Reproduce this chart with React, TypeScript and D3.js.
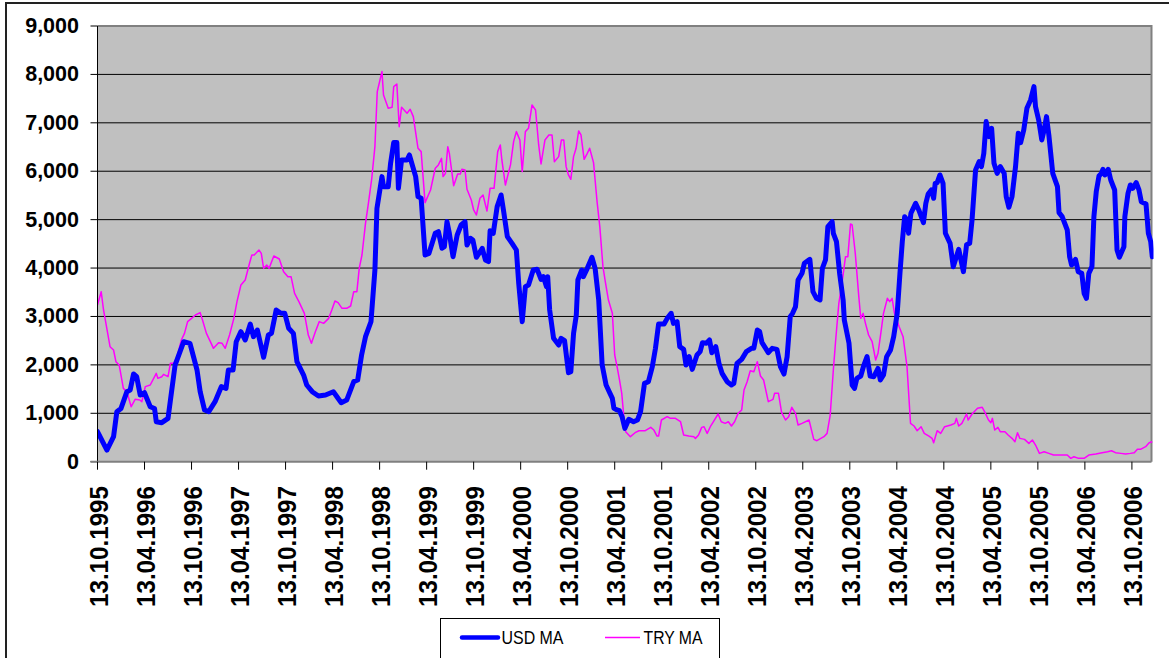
import React from "react";
import * as d3 from "d3";

// Month offsets from 13.10.1995 and values
const usdSeries: [number, number][] = [
  [0, 620], [1.2, 240], [2.05, 517], [2.47, 1033], [3.0, 1100], [3.75, 1446], [4.17, 1480], [4.6, 1811], [5.0, 1756],
  [5.45, 1377], [6.0, 1425], [6.73, 1136], [7.28, 1100], [7.5, 826], [8.2, 806], [9.0, 895], [9.9, 1997], [11.0, 2479],
  [11.8, 2445], [12.7, 1894], [13.1, 1446], [13.66, 1067], [14.2, 1033], [15.0, 1240], [15.8, 1550], [16.4, 1515],
  [16.7, 1894], [17.3, 1894], [17.7, 2479], [18.3, 2686], [18.85, 2514], [19.5, 2844], [19.9, 2583], [20.4, 2720],
  [21.2, 2156], [21.8, 2617], [22.2, 2651], [22.8, 3134], [23.4, 3065], [23.9, 3065], [24.4, 2755], [25.0, 2651],
  [25.45, 2066], [26.3, 1790], [26.7, 1584], [27.4, 1446], [28.2, 1357], [29.1, 1377], [30.1, 1446], [31.1, 1219],
  [31.8, 1274], [32.7, 1653], [33.2, 1687], [33.7, 2204], [34.2, 2583], [34.9, 2893], [35.4, 3960], [35.66, 5234],
  [36.3, 5889], [36.5, 5682], [37.1, 5682], [37.4, 6164], [37.8, 6591], [38.2, 6591], [38.4, 5647], [38.8, 6233],
  [39.5, 6233], [39.8, 6336], [40.6, 5889], [40.9, 5475], [41.3, 5441], [41.8, 4270], [42.3, 4304], [43.1, 4718],
  [43.5, 4752], [43.96, 4408], [44.26, 4442], [44.6, 4959], [44.9, 4718], [45.37, 4235], [45.9, 4683], [46.4, 4890],
  [46.9, 4959], [47.15, 4476], [47.6, 4614], [47.9, 4580], [48.35, 4222], [49.1, 4408], [49.5, 4167], [49.9, 4132],
  [50.1, 4773], [50.5, 4718], [51.0, 5269], [51.5, 5510], [51.8, 5200], [52.3, 4649], [52.9, 4511], [53.45, 4373],
  [53.75, 3684], [54.2, 2893], [54.6, 3616], [55.0, 3650], [55.6, 3960], [56.1, 3974], [56.6, 3767], [56.9, 3822],
  [57.3, 3616], [57.45, 3822], [57.7, 3134], [58.2, 2548], [58.85, 2410], [59.15, 2548], [59.6, 2500], [60.1, 1839],
  [60.4, 1859], [60.75, 2651], [61.1, 3030], [61.3, 3753], [61.8, 3960], [62.0, 3822], [62.5, 3994], [63.1, 4222],
  [63.5, 3994], [63.96, 3340], [64.4, 1997], [64.9, 1584], [65.4, 1412], [65.7, 1309], [65.9, 1102], [66.3, 1070],
  [66.6, 1054], [66.94, 930], [67.3, 689], [67.8, 875], [68.4, 826], [68.9, 861], [69.3, 1033], [69.8, 1618],
  [70.3, 1653], [70.8, 1963], [71.2, 2342], [71.6, 2844], [72.3, 2844], [72.7, 2961], [73.2, 3065], [73.5, 2858],
  [73.96, 2893], [74.3, 2376], [74.8, 2321], [75.1, 1997], [75.5, 2169], [75.9, 1908], [76.5, 2204], [76.9, 2273],
  [77.2, 2459], [77.7, 2445], [78.1, 2514], [78.4, 2252], [78.9, 2376], [79.3, 2032], [79.7, 1825], [80.35, 1653],
  [80.9, 1584], [81.2, 1618], [81.6, 2032], [82.2, 2114], [82.8, 2273], [83.45, 2342], [83.75, 2342], [84.2, 2720],
  [84.5, 2686], [84.8, 2459], [85.6, 2252], [86.1, 2342], [86.7, 2321], [87.15, 1963], [87.6, 1811], [88.0, 2169],
  [88.4, 2996], [88.7, 3065], [89.07, 3202], [89.4, 3753], [89.9, 3891], [90.2, 4098], [90.9, 4180], [91.3, 3512],
  [91.75, 3375], [92.2, 3340], [92.5, 3994], [92.9, 4167], [93.2, 4855], [93.75, 4959], [93.9, 4718], [94.3, 4545],
  [94.7, 3891], [95.15, 3340], [95.3, 2927], [95.9, 2445], [96.3, 1584], [96.6, 1515], [96.9, 1722], [97.4, 1770],
  [97.8, 1997], [98.2, 2169], [98.6, 1770], [99.07, 1756], [99.6, 1928], [99.9, 1687], [100.3, 1790], [100.7, 2169],
  [101.2, 2307], [101.6, 2583], [102.05, 3065], [102.4, 3891], [102.7, 4545], [103.0, 5062], [103.3, 4993],
  [103.5, 4718], [103.8, 5131], [104.4, 5337], [104.8, 5200], [105.4, 4938], [105.7, 5337], [106.0, 5530],
  [106.4, 5613], [106.7, 5441], [106.9, 5751], [107.15, 5764], [107.5, 5923], [107.9, 5751], [108.2, 4718],
  [108.8, 4511], [109.2, 4029], [109.9, 4387], [110.5, 3926], [110.9, 4480], [111.3, 4511], [111.6, 4993],
  [112.05, 6026], [112.5, 6198], [112.8, 6095], [113.1, 6370], [113.4, 7025], [113.75, 6715], [114.1, 6887],
  [114.4, 6164], [114.8, 5957], [115.2, 6095], [115.7, 5957], [115.96, 5475], [116.3, 5255], [116.7, 5475],
  [117.15, 6095], [117.5, 6784], [117.8, 6591], [118.2, 6853], [118.6, 7300], [119.07, 7472], [119.5, 7748],
  [119.7, 7335], [120.1, 7059], [120.5, 6646], [120.8, 6853], [121.1, 7128], [121.4, 6749], [121.9, 5957],
  [122.5, 5682], [122.7, 5145], [123.1, 5062], [123.75, 4786], [124.05, 4235], [124.3, 4063], [124.8, 4180],
  [125.15, 3926], [125.6, 3891], [125.9, 3478], [126.2, 3375], [126.5, 3891], [126.9, 4029], [127.15, 5062],
  [127.45, 5578], [127.8, 5902], [128.1, 5957], [128.3, 6040], [128.55, 5923], [128.98, 6040], [129.3, 5819],
  [129.8, 5613], [130.1, 4373], [130.4, 4222], [130.98, 4442], [131.1, 5062], [131.5, 5544], [131.8, 5716],
  [132.1, 5647], [132.55, 5764], [132.9, 5613], [133.2, 5372], [133.8, 5324], [134.1, 4718], [134.4, 4545],
  [134.6, 4235],
];

const trySeries: [number, number][] = [
  [0, 3237], [0.47, 3512], [0.77, 3134], [1.6, 2376], [2.05, 2307], [2.35, 2066], [2.77, 1997], [3.3, 1515],
  [3.75, 1446], [4.3, 1136], [4.8, 1288], [5.4, 1274], [5.66, 1240], [6.1, 1550], [6.73, 1584], [7.5, 1825],
  [7.7, 1722], [8.2, 1756], [8.43, 1804], [9.0, 1756], [9.3, 2032], [9.7, 2032], [10.1, 2135], [10.7, 2514],
  [11.1, 2651], [11.5, 2893], [12.0, 2961], [12.5, 3030], [13.1, 3079], [13.4, 2927], [13.9, 2651], [14.4, 2479],
  [14.8, 2342], [15.45, 2459], [15.9, 2445], [16.3, 2342], [16.85, 2617], [17.4, 2961], [17.8, 3306], [18.3, 3650],
  [18.85, 3753], [19.4, 4098], [19.7, 4270], [20.0, 4270], [20.6, 4373], [20.9, 4304], [21.2, 3994], [21.6, 4063],
  [21.9, 3994], [22.5, 4249], [23.2, 4187], [23.75, 3926], [24.3, 3822], [24.7, 3822], [25.15, 3478], [25.7, 3306],
  [26.4, 3065], [26.9, 2617], [27.3, 2445], [27.8, 2686], [28.3, 2893], [28.85, 2858], [29.5, 2961], [29.9, 3134],
  [30.3, 3320], [30.7, 3285], [31.2, 3168], [31.8, 3168], [32.3, 3216], [32.7, 3512], [33.1, 3512], [33.4, 3994],
  [33.75, 4270], [34.2, 4924], [34.6, 5372], [35.0, 5854], [35.4, 6508], [35.7, 7645], [36.1, 7920], [36.3, 8058],
  [36.5, 7576], [37.1, 7300], [37.6, 7321], [37.8, 7748], [38.2, 7803], [38.5, 6921], [38.8, 7321], [39.5, 7197],
  [39.9, 7280], [40.3, 7128], [40.9, 6474], [41.3, 6405], [41.8, 5351], [42.5, 5613], [43.1, 6061], [43.5, 6130],
  [43.9, 6267], [44.1, 5889], [44.4, 5957], [44.7, 6508], [44.9, 6370], [45.45, 5702], [45.96, 5943], [46.3, 5943],
  [46.5, 6040], [46.9, 6026], [47.15, 5627], [47.7, 5406], [48.0, 5200], [48.35, 5096], [48.8, 5441], [49.2, 5510],
  [49.7, 5179], [50.1, 5647], [50.6, 5647], [51.07, 6405], [51.4, 6543], [51.6, 6233], [52.05, 5716], [52.7, 6130],
  [53.1, 6611], [53.45, 6818], [53.9, 6646], [54.2, 5992], [54.6, 6818], [55.0, 6887], [55.45, 7369], [55.9, 7266],
  [56.3, 6543], [56.6, 6150], [57.1, 6646], [57.6, 6749], [58.0, 6749], [58.3, 6198], [58.85, 6302], [59.2, 6646],
  [59.5, 6646], [59.8, 6095], [60.1, 5923], [60.4, 5833], [60.75, 6302], [61.07, 6474], [61.4, 6832], [61.7, 6749],
  [62.1, 6246], [62.5, 6370], [62.8, 6474], [63.3, 6177], [63.5, 5819], [63.75, 5372], [64.1, 4855], [64.5, 4029],
  [64.8, 3719], [65.2, 3340], [65.7, 3065], [66.0, 2204], [66.3, 1963], [66.6, 1700], [66.9, 1412], [67.2, 861],
  [67.4, 620], [68.0, 517], [68.6, 599], [69.1, 640], [69.9, 640], [70.6, 709], [71.0, 654], [71.4, 530], [71.6, 530],
  [71.96, 861], [72.7, 930], [73.1, 895], [73.75, 895], [74.4, 826], [74.8, 551], [75.45, 530], [76.1, 517],
  [76.3, 482], [76.7, 551], [77.1, 709], [77.4, 723], [77.8, 585], [78.2, 723], [78.6, 826], [79.2, 985], [79.6, 826],
  [80.1, 792], [80.5, 826], [80.9, 737], [81.3, 826], [81.75, 999], [82.2, 1067], [82.5, 1481], [82.9, 1653],
  [83.3, 1880], [83.75, 1859], [84.2, 2066], [84.6, 1770], [85.0, 1687], [85.6, 1240], [86.2, 1288], [86.4, 1412],
  [86.9, 1412], [87.3, 1012], [87.8, 861], [88.2, 930], [88.6, 1123], [89.07, 999], [89.4, 758], [89.9, 792],
  [90.8, 861], [91.4, 461], [91.8, 434], [92.7, 517], [93.1, 585], [93.5, 964], [93.9, 1894], [94.2, 2514],
  [94.6, 3271], [95.0, 3684], [95.45, 4235], [95.75, 4235], [96.09, 4910], [96.3, 4890], [96.7, 4304], [97.15, 3409],
  [97.4, 2961], [97.7, 3065], [98.0, 2858], [98.4, 2617], [98.85, 2479], [99.3, 2100], [99.6, 2238], [99.9, 2583],
  [100.3, 3065], [100.8, 3375], [101.1, 3306], [101.4, 3375], [101.7, 3065], [102.3, 2789], [102.8, 2583],
  [103.3, 1963], [103.75, 792], [104.2, 737], [104.6, 640], [105.1, 723], [105.5, 585], [106.1, 530], [106.5, 482],
  [106.7, 393], [107.15, 640], [107.6, 585], [108.1, 723], [108.9, 758], [109.4, 792], [109.6, 895], [109.9, 737],
  [110.3, 792], [110.9, 985], [111.1, 861], [111.6, 985], [112.3, 1102], [112.9, 1123], [113.2, 1033], [113.7, 861],
  [114.0, 806], [114.2, 895], [114.5, 654], [114.9, 709], [115.2, 620], [115.8, 620], [116.2, 551], [116.7, 482],
  [117.07, 413], [117.4, 599], [117.7, 482], [118.3, 461], [118.85, 379], [119.3, 448], [119.7, 344], [120.2, 172],
  [120.8, 207], [121.4, 172], [122.0, 138], [123.1, 138], [123.75, 138], [124.2, 69], [124.6, 103], [125.2, 69],
  [125.9, 69], [126.5, 138], [127.4, 158], [128.2, 186], [128.9, 207], [129.4, 227], [129.9, 186], [130.6, 172],
  [131.2, 158], [131.8, 172], [132.3, 186], [132.7, 255], [133.1, 255], [133.75, 310], [134.2, 393], [134.6, 413],
];

const tickLabels = [
  "13.10.1995", "13.04.1996", "13.10.1996", "13.04.1997", "13.10.1997", "13.04.1998", "13.10.1998",
  "13.04.1999", "13.10.1999", "13.04.2000", "13.10.2000", "13.04.2001", "13.10.2001", "13.04.2002",
  "13.10.2002", "13.04.2003", "13.10.2003", "13.04.2004", "13.10.2004", "13.04.2005", "13.10.2005",
  "13.04.2006", "13.10.2006",
];
const yTicks = [0, 1000, 2000, 3000, 4000, 5000, 6000, 7000, 8000, 9000];
const seriesNames = ["USD MA", "TRY MA"];

const W = 1169;
const H = 658;
const plot = { left: 97.5, right: 1151.5, top: 26, bottom: 461.7 };
const FONT = "'Liberation Sans', Arial, Helvetica, sans-serif";

export default function App() {
  const x = d3.scaleLinear().domain([0, 134.5]).range([plot.left, plot.right]);
  const y = d3.scaleLinear().domain([0, 9000]).range([plot.bottom, plot.top]);
  const line = d3
    .line<[number, number]>()
    .x((d) => x(d[0]))
    .y((d) => y(d[1]));
  const fmt = d3.format(",");

  return (
    <svg
      width={W}
      height={H}
      style={{ position: "absolute", left: 0, top: 0, background: "#fff" }}
      fontFamily={FONT}
    >
      <rect x={0} y={0} width={W} height={H} fill="#fff" />
      {/* outer chart frame */}
      <rect x={6} y={3} width={1300} height={800} fill="none" stroke="#222" strokeWidth={2} />

      {/* plot area */}
      <rect
        x={plot.left}
        y={plot.top}
        width={plot.right - plot.left}
        height={plot.bottom - plot.top}
        fill="#C0C0C0"
      />
      {yTicks.slice(1, -1).map((t) => (
        <line key={t} x1={plot.left} x2={plot.right} y1={y(t)} y2={y(t)} stroke="#000" strokeWidth={1} />
      ))}
      {/* plot border top/right */}
      <polyline
        points={`${plot.left},${plot.top} ${plot.right},${plot.top} ${plot.right},${plot.bottom}`}
        fill="none"
        stroke="#808080"
        strokeWidth={2}
      />

      <clipPath id="clip">
        <rect x={plot.left} y={plot.top - 5} width={plot.right - plot.left + 2} height={plot.bottom - plot.top + 10} />
      </clipPath>
      <g clipPath="url(#clip)">
        <path d={line(trySeries) || ""} fill="none" stroke="#FF00FF" strokeWidth={1.5} strokeLinejoin="round" />
        <path d={line(usdSeries) || ""} fill="none" stroke="#0000FF" strokeWidth={5} strokeLinejoin="round" strokeLinecap="round" />
      </g>

      {/* y axis */}
      <line x1={plot.left} x2={plot.left} y1={plot.top} y2={plot.bottom} stroke="#000" strokeWidth={1} />
      {yTicks.map((t) => (
        <g key={t}>
          <line x1={plot.left - 7} x2={plot.left} y1={y(t)} y2={y(t)} stroke="#000" strokeWidth={1} />
          <text
            x={79}
            y={y(t)}
            textAnchor="end"
            dominantBaseline="central"
            fontSize={21.5}
            fontWeight="bold"
            fill="#000"
          >
            {fmt(t)}
          </text>
        </g>
      ))}

      {/* x axis */}
      <line x1={plot.left - 7} x2={plot.right} y1={plot.bottom} y2={plot.bottom} stroke="#808080" strokeWidth={2} />
      {tickLabels.map((lab, i) => {
        const tx = x(i * 6);
        return (
          <g key={lab}>
            <line x1={tx} x2={tx} y1={plot.bottom} y2={plot.bottom + 8} stroke="#000" strokeWidth={1} />
            <text
              transform={`translate(${tx + 1},486) rotate(-90)`}
              textAnchor="end"
              dominantBaseline="central"
              fontSize={25.5}
              textLength={121}
              lengthAdjust="spacingAndGlyphs"
              fontWeight="bold"
              fill="#000"
            >
              {lab}
            </text>
          </g>
        );
      })}

      {/* legend */}
      <rect x={440.5} y={618.5} width={279} height={60} fill="#fff" stroke="#000" strokeWidth={1} />
      <line x1={462} x2={498} y1={637.5} y2={637.5} stroke="#0000FF" strokeWidth={4.5} strokeLinecap="round" />
      <text x={501.5} y={643.5} fontSize={17.5} textLength={62} lengthAdjust="spacingAndGlyphs" fill="#000">
        {seriesNames[0]}
      </text>
      <line x1={605} x2={640} y1={637.5} y2={637.5} stroke="#FF00FF" strokeWidth={1.5} />
      <text x={643.5} y={643.5} fontSize={17.5} textLength={59} lengthAdjust="spacingAndGlyphs" fill="#000">
        {seriesNames[1]}
      </text>
    </svg>
  );
}
